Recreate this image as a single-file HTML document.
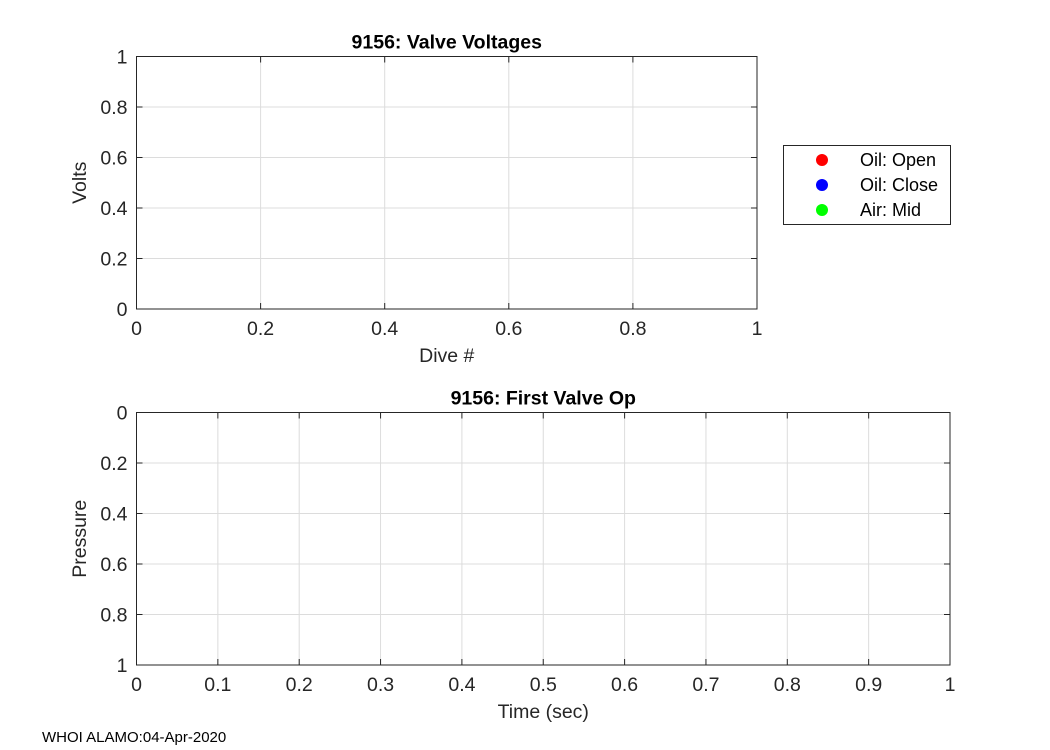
<!DOCTYPE html>
<html><head><meta charset="utf-8"><style>
body{margin:0;background:#fff;}
svg{display:block;font-family:"Liberation Sans",Arial,sans-serif;}
</style></head><body>
<svg id="fig" width="1050" height="750" viewBox="0 0 1050 750">
<rect width="1050" height="750" fill="#fff"/>
<g id="top"></g>
<g id="bot"></g>
<g>
<rect x="783.5" y="145.5" width="167" height="79" fill="#fff" stroke="#262626" stroke-width="1"/>
<circle cx="822" cy="160" r="6" fill="#ff0000"/>
<circle cx="822" cy="185" r="6" fill="#0000ff"/>
<circle cx="822" cy="210" r="6" fill="#00ff00"/>
<text x="860" y="166" font-size="18" fill="#000">Oil: Open</text>
<text x="860" y="191" font-size="18" fill="#000">Oil: Close</text>
<text x="860" y="216" font-size="18" fill="#000">Air: Mid</text>
</g>
<text x="42" y="742" font-size="15" fill="#000">WHOI ALAMO:04-Apr-2020</text>
</svg>
<script>
const topXTicks=[0,0.2,0.4,0.6,0.8,1];
const topYTicks=[0,0.2,0.4,0.6,0.8,1];
const botXTicks=[0,0.1,0.2,0.3,0.4,0.5,0.6,0.7,0.8,0.9,1];
const botYTicks=[0,0.2,0.4,0.6,0.8,1];
const NS="http://www.w3.org/2000/svg";
function mk(p,tag,a,txt){const e=document.createElementNS(NS,tag);for(const k in a)e.setAttribute(k,a[k]);if(txt!==undefined)e.textContent=txt;p.appendChild(e);return e;}
function axes(g,L,T,R,B,xt,yt,rev,title,xl,yl){
  const sx=v=>L+(R-L)*v, sy=v=>rev?T+(B-T)*v:B-(B-T)*v;
  xt.forEach(v=>{
    const l=mk(g,'line',{x1:sx(v),x2:sx(v),y1:T,y2:B,stroke:'#dcdcdc','stroke-width':1});
    
    
    const t=mk(g,'text',{x:sx(v),y:B+26,'font-size':19.5,'text-anchor':'middle',fill:'#262626'},String(v));
    
    
  });
  yt.forEach(v=>{
    const l=mk(g,'line',{x1:L,x2:R,y1:sy(v),y2:sy(v),stroke:'#dcdcdc','stroke-width':1});
    
    
    const t=mk(g,'text',{x:L-9,y:sy(v)+7,'font-size':19.5,'text-anchor':'end',fill:'#262626'},String(v));
    
    
  });
  xt.forEach(v=>{mk(g,'line',{x1:sx(v),x2:sx(v),y1:B,y2:B-6,stroke:'#262626'});mk(g,'line',{x1:sx(v),x2:sx(v),y1:T,y2:T+6,stroke:'#262626'});});
  yt.forEach(v=>{mk(g,'line',{x1:L,x2:L+6,y1:sy(v),y2:sy(v),stroke:'#262626'});mk(g,'line',{x1:R,x2:R-6,y1:sy(v),y2:sy(v),stroke:'#262626'});});
  const b=mk(g,'rect',{x:L,y:T,width:R-L,height:B-T,fill:'none',stroke:'#262626','stroke-width':1});
  
  
  const ti=mk(g,'text',{x:(L+R)/2,y:T-8,'font-size':19.5,'font-weight':'bold','text-anchor':'middle',fill:'#000'},title);
  
  
  const xa=mk(g,'text',{x:(L+R)/2,y:B+53,'font-size':19.5,'text-anchor':'middle',fill:'#262626'},xl);
  
  
  const cy=(T+B)/2;
  const ya=mk(g,'text',{x:86,y:cy,'font-size':19.5,'text-anchor':'middle',fill:'#262626',transform:`rotate(-90 86 ${cy})`},yl);
  
  
}
axes(document.getElementById('top'),136.5,56.5,757,309,topXTicks,topYTicks,false,'9156: Valve Voltages','Dive #','Volts');
axes(document.getElementById('bot'),136.5,412.5,950,665,botXTicks,botYTicks,true,'9156: First Valve Op','Time (sec)','Pressure');
</script>
</body></html>
